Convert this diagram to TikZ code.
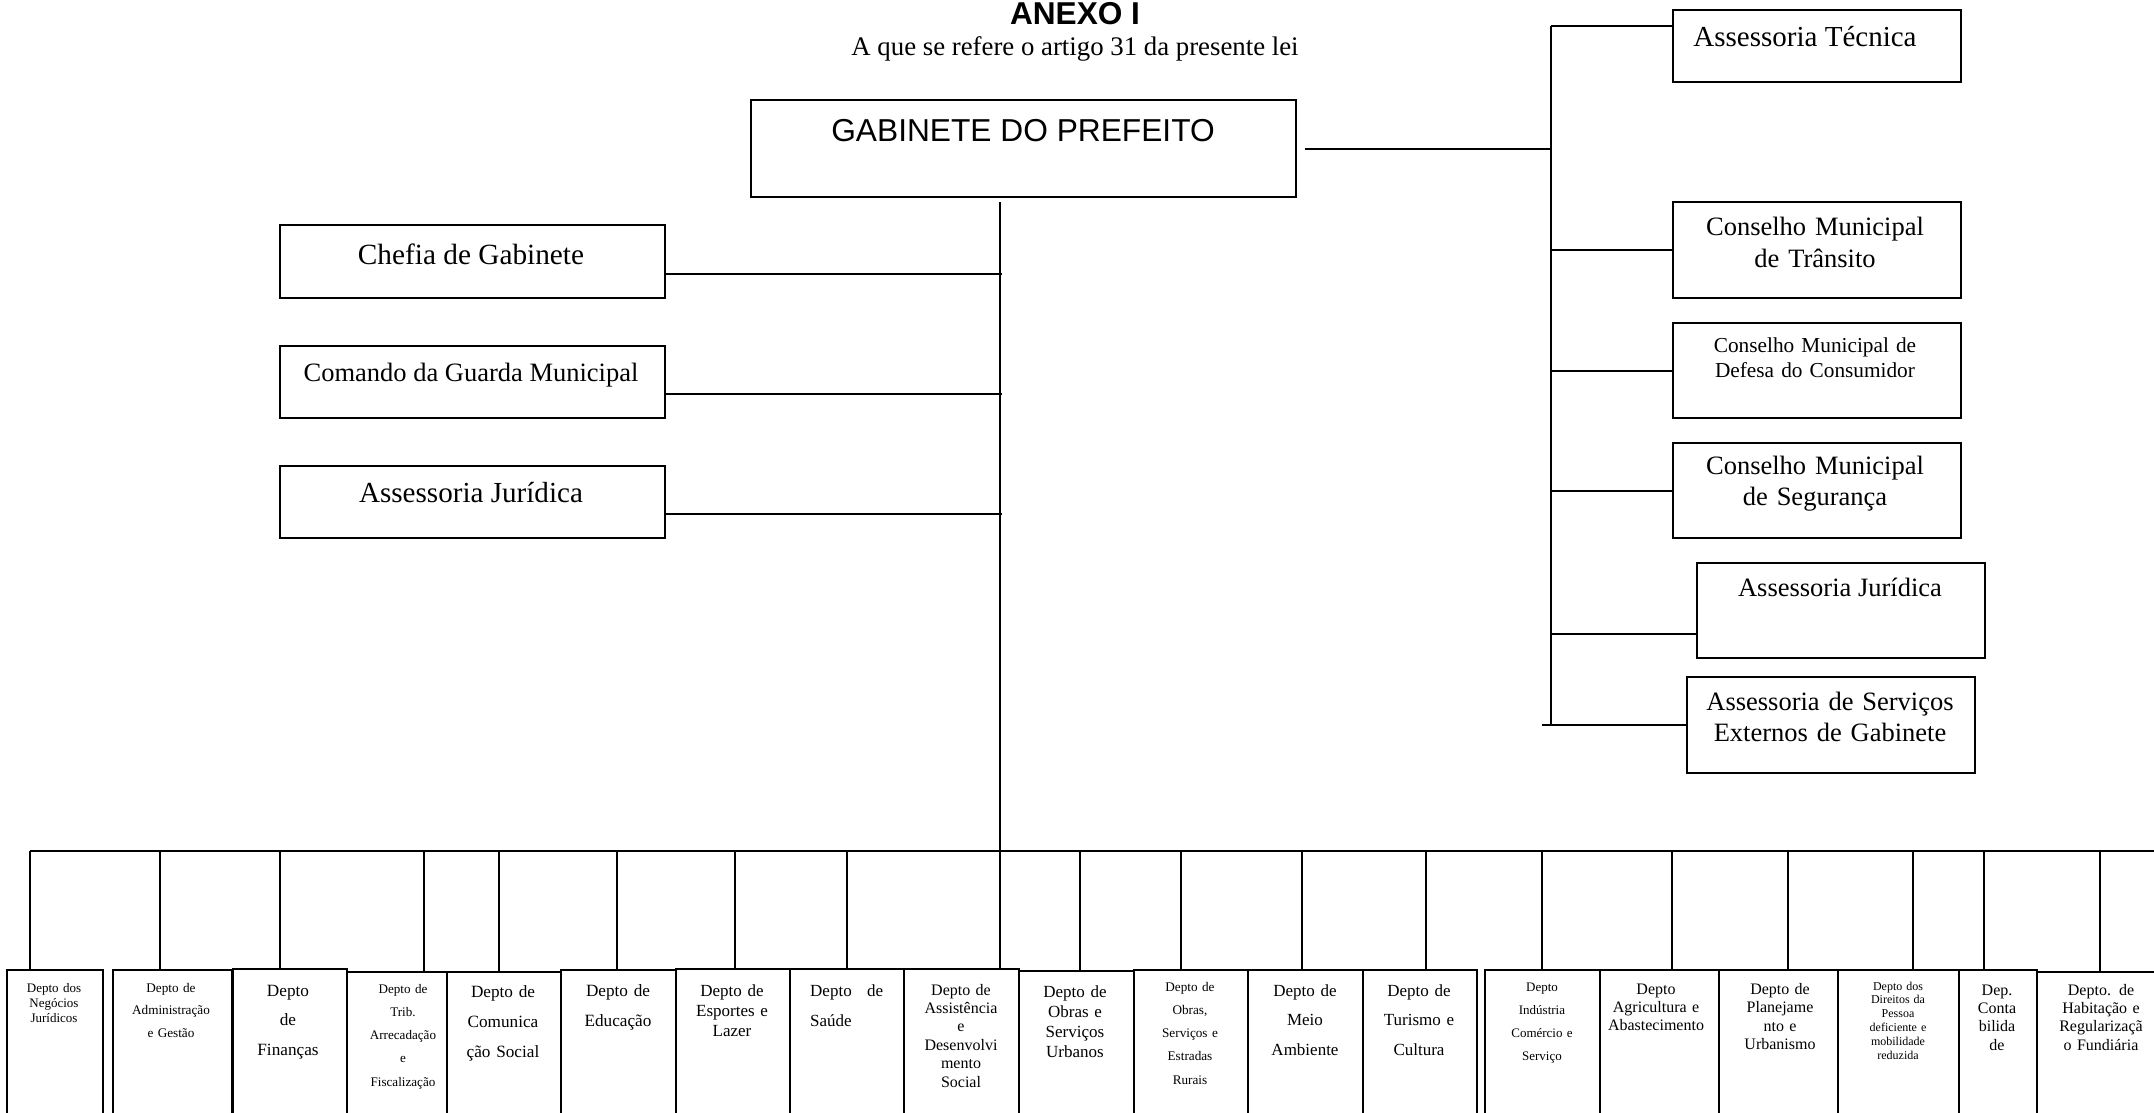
\documentclass[tikz,border=0pt]{standalone}
\usepackage{fontspec}
\setmainfont{Liberation Serif}
\newfontfamily\arialfont{Liberation Sans}
\newcommand\fs[2]{\fontsize{#1}{#2}\selectfont}
\begin{document}
\begin{tikzpicture}[x=1pt,y=-1pt,
  box/.style={draw, line width=2.2pt, inner sep=0pt, anchor=north west},
  conn/.style={line width=2.2pt},
  tx/.style={anchor=base, inner sep=0pt},
  mtx/.style={anchor=base, inner sep=0pt, align=center, text width=#1},
  mtx/.default=140pt]
\useasboundingbox (0,0) rectangle (2154,1112);
\clip (0,0) rectangle (2154,1112);
\fill[white] (0,0) rectangle (2154,1112);

% title
\node[tx, font=\arialfont\bfseries\fs{31.6}{36}] (title) at (1075,24) {ANEXO I};
\node[tx, font=\fs{26.8}{30}] (subtitle) at (1075,55) {A que se refere o artigo 31 da presente lei};

% gabinete
\node[box, minimum width=545pt, minimum height=97pt] (gab) at (750,99) {};
\node[tx, font=\arialfont\fs{31.7}{36}] (gabt) at (1023,141) {GABINETE DO PREFEITO};

% left boxes
\node[box, minimum width=385pt, minimum height=73pt] (chefia) at (279,224) {};
\node[tx, font=\fs{29.3}{34}] at (471,264) {Chefia de Gabinete};
\node[box, minimum width=385pt, minimum height=72pt] (comando) at (279,345) {};
\node[tx, font=\fs{26.5}{31}] at (471,381) {Comando da Guarda Municipal};
\node[box, minimum width=385pt, minimum height=72pt] (ajl) at (279,465) {};
\node[tx, font=\fs{29.1}{34}] at (471,502) {Assessoria Jurídica};

% right boxes
\node[box, minimum width=288pt, minimum height=72pt] (at) at (1672,9) {};
\node[tx, font=\fs{29}{34}] at (1805,46) {Assessoria Técnica};
\node[box, minimum width=288pt, minimum height=96pt] (cmt) at (1672,201) {};
\node[mtx=300pt, font=\fs{26.5}{32}] at (1815,235) {Conselho Municipal\\de Trânsito};
\node[box, minimum width=288pt, minimum height=95pt] (cmdc) at (1672,322) {};
\node[mtx=300pt, font=\fs{21.3}{25}] at (1815,352) {Conselho Municipal de\\Defesa do Consumidor};
\node[box, minimum width=288pt, minimum height=95pt] (cms) at (1672,442) {};
\node[mtx=300pt, font=\fs{26.5}{31}] at (1815,474) {Conselho Municipal\\de Segurança};
\node[box, minimum width=288pt, minimum height=95pt] (ajr) at (1696,562) {};
\node[tx, font=\fs{26.5}{31}] at (1840,596) {Assessoria Jurídica};
\node[box, minimum width=288pt, minimum height=96pt] (ase) at (1686,676) {};
\node[mtx=300pt, font=\fs{26.5}{31}] at (1830,710) {Assessoria de Serviços\\Externos de Gabinete};

% bottom boxes
\node[box, minimum width=96pt, minimum height=200pt] (b1) at (6,969) {};
\node[mtx, font=\fs{13}{15}] at (54,992) {Depto dos\\Negócios\\Jurídicos};
\node[box, minimum width=119pt, minimum height=200pt] (b2) at (112,969) {};
\node[mtx, font=\fs{13.2}{22.5}] at (171,992) {Depto de\\Administração\\e Gestão};
\node[box, minimum width=114pt, minimum height=200pt] (b3) at (232,968) {};
\node[mtx, font=\fs{17.2}{29.5}] at (288,996) {Depto\\de\\Finanças};
\node[box, minimum width=100pt, minimum height=200pt] (b4) at (346,971) {};
\node[mtx, font=\fs{13.1}{23.25}] at (403,993) {Depto de\\Trib.\\Arrecadação\\e\\Fiscalização};
\node[box, minimum width=114pt, minimum height=200pt] (b5) at (446,971) {};
\node[mtx, font=\fs{17.2}{30}] at (503,997) {Depto de\\Comunica\\ção Social};
\node[box, minimum width=115pt, minimum height=200pt] (b6) at (560,969) {};
\node[mtx, font=\fs{17.2}{30}] at (618,996) {Depto de\\Educação};
\node[box, minimum width=114pt, minimum height=200pt] (b7) at (675,968) {};
\node[mtx, font=\fs{17}{20}] at (732,996) {Depto de\\Esportes e\\Lazer};
\node[box, minimum width=114pt, minimum height=200pt] (b8) at (789,968) {};
\node[anchor=base west, inner sep=0pt, align=left, text width=73pt, font=\fs{17}{30}] at (810,996) {Depto\hfill de\\Saúde};
\node[box, minimum width=115pt, minimum height=200pt] (b9) at (903,968) {};
\node[mtx, font=\fs{16}{18.4}] at (961,995) {Depto de\\Assistência\\e\\Desenvolvi\\mento\\Social};
\node[box, minimum width=115pt, minimum height=200pt] (b10) at (1018,970) {};
\node[mtx, font=\fs{17}{20}] at (1075,997) {Depto de\\Obras e\\Serviços\\Urbanos};
\node[box, minimum width=114pt, minimum height=200pt] (b11) at (1133,969) {};
\node[mtx, font=\fs{13.2}{23.3}] at (1190,991) {Depto de\\Obras,\\Serviços e\\Estradas\\Rurais};
\node[box, minimum width=115pt, minimum height=200pt] (b12) at (1247,969) {};
\node[mtx, font=\fs{17}{29.5}] at (1305,996) {Depto de\\Meio\\Ambiente};
\node[box, minimum width=114pt, minimum height=200pt] (b13) at (1362,969) {};
\node[mtx, font=\fs{17}{29.5}] at (1419,996) {Depto de\\Turismo e\\Cultura};
\node[box, minimum width=115pt, minimum height=200pt] (b14) at (1484,969) {};
\node[mtx, font=\fs{13}{23.3}] at (1542,991) {Depto\\Indústria\\Comércio e\\Serviço};
\node[box, minimum width=119pt, minimum height=200pt] (b15) at (1599,969) {};
\node[mtx, font=\fs{16}{18}] at (1656,994) {Depto\\Agricultura e\\Abastecimento};
\node[box, minimum width=119pt, minimum height=200pt] (b16) at (1718,969) {};
\node[mtx, font=\fs{16}{18.5}] at (1780,994) {Depto de\\Planejame\\nto e\\Urbanismo};
\node[box, minimum width=121pt, minimum height=200pt] (b17) at (1837,969) {};
\node[mtx, font=\fs{12}{13.8}] at (1898,990) {Depto dos\\Direitos da\\Pessoa\\deficiente e\\mobilidade\\reduzida};
\node[box, minimum width=78pt, minimum height=200pt] (b18) at (1958,969) {};
\node[mtx, font=\fs{16}{18.4}] at (1997,995) {Dep.\\Conta\\bilida\\de};
\node[box, minimum width=140pt, minimum height=200pt] (b19) at (2036,971) {};
\node[mtx, font=\fs{16}{18.4}] at (2101,995) {Depto. de\\Habitação e\\Regularizaçã\\o Fundiária};

% central line and left connectors
\coordinate (ctop) at (1000,202);
\draw[conn] (ctop) -- (ctop |- b9.north);
\draw[conn] ([yshift=-12.5pt]chefia.east) -- ([yshift=-12.5pt,xshift=2pt]chefia.east -| ctop);
\draw[conn] ([yshift=-12pt]comando.east) -- ([yshift=-12pt,xshift=2pt]comando.east -| ctop);
\draw[conn] ([yshift=-12pt]ajl.east) -- ([yshift=-12pt,xshift=2pt]ajl.east -| ctop);

% right bus
\coordinate (rtop) at (1551,26);
\coordinate (rbot) at (1551,724);
\draw[conn] (rtop) -- (rbot);
\draw[conn] ([xshift=8pt]gab.east) -- (gab.east -| rtop);
\draw[conn] (rtop) -- (rtop -| at.west);
\draw[conn] (cmt.west -| rtop) -- (cmt.west);
\draw[conn] (cmdc.west -| rtop) -- (cmdc.west);
\draw[conn] (cms.west -| rtop) -- (cms.west);
\draw[conn] ([yshift=-23.5pt]ajr.west -| rtop) -- ([yshift=-23.5pt]ajr.west);
\draw[conn] ([xshift=-144pt]ase.west) -- (ase.west);

% bottom bus and drops
\coordinate (bus0) at (30,851);
\coordinate (bus1) at (2160,851);
\draw[conn] (bus0) -- (bus1);
\foreach \x/\b in {30/b1,160/b2,280/b3,424/b4,499/b5,617/b6,735/b7,847/b8,1080/b10,1181/b11,1302/b12,1426/b13,1542/b14,1672/b15,1788/b16,1913/b17,1984/b18,2100/b19}{
  \draw[conn] (bus0 -| \x,0) -- (\x,0 |- \b.north);
}
\end{tikzpicture}
\end{document}
